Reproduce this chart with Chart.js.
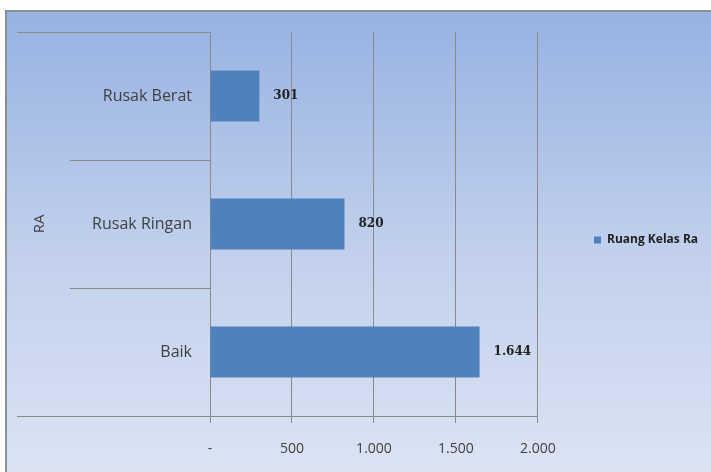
<!DOCTYPE html>
<html>
<head>
<meta charset="utf-8">
<script src="https://cdn.jsdelivr.net/npm/chart.js@4.4.1/dist/chart.umd.min.js"></script>
<style>
  html, body { margin: 0; padding: 0; background: #fff; overflow: hidden; }
  #frame {
    position: absolute; left: 5px; top: 10px; width: 740px; height: 500px;
    border: 2px solid #8b8f98;
    background: linear-gradient(to bottom, #97b2e2 0%, #c3d1ed 50%, #e0e7f4 100%);
  }
  #wrap { position: absolute; left: 0; top: 0; width: 711px; height: 472px; }
</style>
</head>
<body>
<div id="frame"></div>
<div id="wrap"><canvas id="chart"></canvas></div>
<script>
// data
const categories = ['Rusak Berat', 'Rusak Ringan', 'Baik'];
const ruangKelas = [301, 820, 1644];
const xTicks = [0, 500, 1000, 1500, 2000];
const seriesName = 'Ruang Kelas Ra';
const groupName = 'RA';

const lineColor = '#8a8a8a';
const textColor = '#404040';

// 1644 -> "1.644", 0 -> "-"
const fmt = v => (v === 0 ? '-' : String(v).replace(/\B(?=(\d{3})+(?!\d))/g, '.'));

// separators to the left of the plot, at category boundaries
const separators = {
  id: 'separators',
  afterDraw(chart) {
    const {ctx, chartArea, scales: {y}} = chart;
    ctx.save();
    ctx.strokeStyle = lineColor;
    ctx.lineWidth = 1;
    for (let i = 0; i <= categories.length; i++) {
      const py = Math.round(y.getPixelForValue(i - 0.5)) + 0.5;
      const outer = i === 0 || i === categories.length;
      ctx.beginPath();
      ctx.moveTo(outer ? 17 : 70, py);
      ctx.lineTo(i === categories.length ? chartArea.right : chartArea.left, py);
      ctx.stroke();
    }
    ctx.restore();
  },
};

// value labels to the right of each bar
const valueLabels = {
  id: 'valueLabels',
  afterDatasetsDraw(chart) {
    const {ctx} = chart;
    const meta = chart.getDatasetMeta(0);
    ctx.save();
    ctx.font = 'bold 12px "DejaVu Serif"';
    ctx.fillStyle = '#222';
    ctx.textBaseline = 'middle';
    meta.data.forEach((bar, i) => {
      ctx.fillText(fmt(ruangKelas[i]), bar.x + 14, bar.y);
    });
    ctx.restore();
  },
};

// move the legend away from the plot, like the original
const legendPlace = {
  id: 'legendPlace',
  afterLayout(chart) {
    const lg = chart.legend;
    const w = lg.right - lg.left;
    lg.left = 584;
    lg.right = 584 + w;
    lg.top = 200;
    lg.bottom = 280;
  },
};

new Chart(document.getElementById('chart'), {
  type: 'bar',
  data: {
    labels: categories,
    datasets: [{
      label: seriesName,
      data: ruangKelas,
      backgroundColor: '#4f81bd',
      borderWidth: 0,
      categoryPercentage: 0.8,
      barPercentage: 0.5,
    }],
  },
  options: {
    indexAxis: 'y',
    responsive: true,
    maintainAspectRatio: false,
    animation: false,
    layout: {padding: {top: 32, right: 49, bottom: 0, left: 0}},
    plugins: {
      tooltip: {enabled: false},
      legend: {
        position: 'right',
        labels: {
          boxWidth: 7, boxHeight: 7, padding: 10, color: '#222',
          font: {family: '"Open Sans"', size: 12, weight: 'bold'},
        },
      },
    },
    scales: {
      x: {
        min: 0, max: 2000,
        afterBuildTicks: s => { s.ticks = xTicks.map(v => ({value: v})); },
        afterFit: s => { s.height = 56; },
        grid: {color: lineColor, tickColor: lineColor, tickLength: 7, drawTicks: true},
        border: {display: true, color: lineColor},
        ticks: {
          callback: v => fmt(v), padding: 18, color: textColor,
          maxRotation: 0, font: {family: '"Open Sans"', size: 14},
        },
      },
      y: {
        afterFit: s => { s.width = 210; },
        grid: {display: false, drawTicks: false},
        border: {display: false},
        ticks: {padding: 18, color: textColor, font: {family: '"Open Sans"', size: 16}},
        title: {
          display: true, text: groupName, color: textColor,
          font: {family: '"Open Sans"', size: 15}, padding: {top: 31, bottom: 0},
        },
      },
    },
  },
  plugins: [separators, valueLabels, legendPlace],
});
</script>
</body>
</html>
